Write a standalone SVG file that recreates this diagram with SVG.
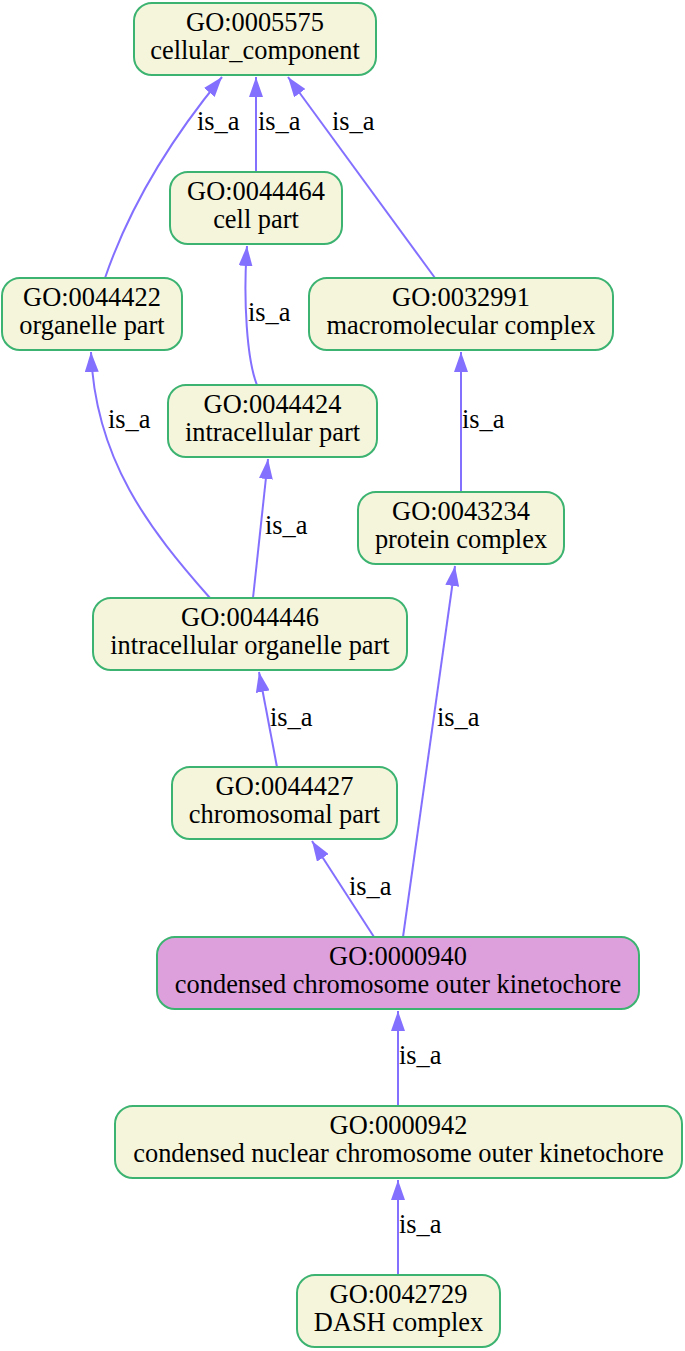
<svg xmlns="http://www.w3.org/2000/svg" width="685" height="1351" viewBox="0 0 685 1351">
<style>
.n rect{fill:#F5F5DC;stroke:#3CB371;stroke-width:2}
.n.hl rect{fill:#DDA0DD}
.n text,.lbl{font-family:"Liberation Serif","Times New Roman",serif;font-size:26.4px;fill:#000}
.n text{text-anchor:middle}
.e path{fill:none;stroke:#8470FF;stroke-width:2;marker-end:url(#ah)}
</style>
<defs>
<marker id="ah" viewBox="0 0 20 14" refX="20" refY="7" markerWidth="20" markerHeight="14" markerUnits="userSpaceOnUse" orient="auto">
<path d="M0,0 L20,7 L0,14 z" fill="#8470FF"/>
</marker>
</defs>
<rect width="685" height="1351" fill="#fff"/>
<g id="edges" class="e">
<path d="M105,278 C130,205 170,140 222,77"/>
<path d="M256,172 L256,77"/>
<path d="M435,278 L288,77"/>
<path d="M257,385 C247,360 243,300 247,246"/>
<path d="M210,598 C150,530 95,460 91,352"/>
<path d="M253,598 L268,459"/>
<path d="M461,492 L461,352"/>
<path d="M403,937 L455,566"/>
<path d="M277,767 L259,672"/>
<path d="M374,937 L312,841"/>
<path d="M398,1106 L398,1011"/>
<path d="M398,1275 L398,1180"/>
<g>
<text class="lbl" x="197" y="130">is_a</text>
<text class="lbl" x="258" y="130">is_a</text>
<text class="lbl" x="332" y="130">is_a</text>
<text class="lbl" x="248" y="321">is_a</text>
<text class="lbl" x="108" y="428">is_a</text>
<text class="lbl" x="265" y="534">is_a</text>
<text class="lbl" x="462" y="428">is_a</text>
<text class="lbl" x="437" y="726">is_a</text>
<text class="lbl" x="270" y="726">is_a</text>
<text class="lbl" x="349" y="895">is_a</text>
<text class="lbl" x="399" y="1064">is_a</text>
<text class="lbl" x="399" y="1233">is_a</text>
</g>
</g>
<g id="GO0005575" class="n"><rect x="134" y="3" width="242" height="72" rx="18"/><text x="255" y="31">GO:0005575</text><text x="255" y="59">cellular_component</text></g>
<g id="GO0044464" class="n"><rect x="170" y="172" width="172" height="72" rx="18"/><text x="256" y="200">GO:0044464</text><text x="256" y="228">cell part</text></g>
<g id="GO0044422" class="n"><rect x="2" y="278" width="180" height="72" rx="18"/><text x="92" y="306">GO:0044422</text><text x="92" y="334">organelle part</text></g>
<g id="GO0032991" class="n"><rect x="309" y="278" width="304" height="72" rx="18"/><text x="461" y="306">GO:0032991</text><text x="461" y="334">macromolecular complex</text></g>
<g id="GO0044424" class="n"><rect x="168" y="385" width="209" height="72" rx="18"/><text x="272.5" y="413">GO:0044424</text><text x="272.5" y="441">intracellular part</text></g>
<g id="GO0043234" class="n"><rect x="358" y="492" width="206" height="72" rx="18"/><text x="461" y="520">GO:0043234</text><text x="461" y="548">protein complex</text></g>
<g id="GO0044446" class="n"><rect x="93" y="598" width="314" height="72" rx="18"/><text x="250" y="626">GO:0044446</text><text x="250" y="654">intracellular organelle part</text></g>
<g id="GO0044427" class="n"><rect x="172" y="767" width="225" height="72" rx="18"/><text x="284.5" y="795">GO:0044427</text><text x="284.5" y="823">chromosomal part</text></g>
<g id="GO0000940" class="n hl"><rect x="157" y="937" width="482" height="72" rx="18"/><text x="398" y="965">GO:0000940</text><text x="398" y="993">condensed chromosome outer kinetochore</text></g>
<g id="GO0000942" class="n"><rect x="115" y="1106" width="567" height="72" rx="18"/><text x="398.5" y="1134">GO:0000942</text><text x="398.5" y="1162">condensed nuclear chromosome outer kinetochore</text></g>
<g id="GO0042729" class="n"><rect x="297" y="1275" width="203" height="72" rx="18"/><text x="398.5" y="1303">GO:0042729</text><text x="398.5" y="1331">DASH complex</text></g>
</svg>
